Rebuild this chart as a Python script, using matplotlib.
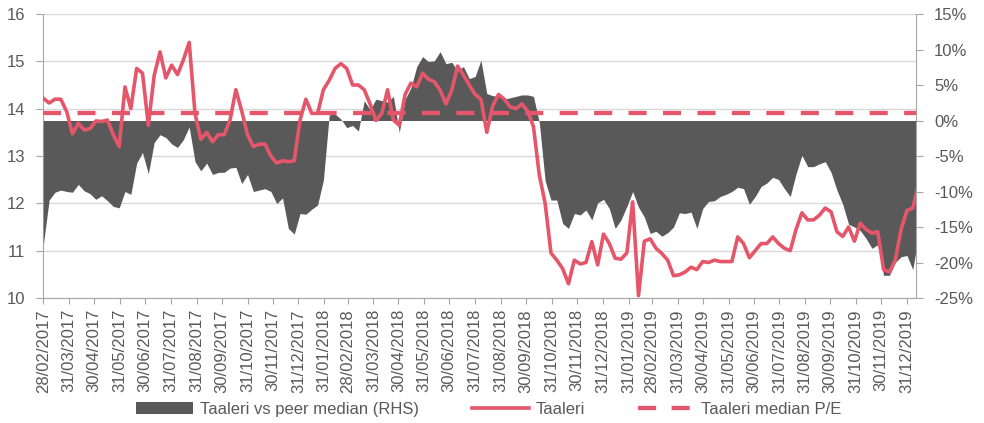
import pandas as pd
import matplotlib
matplotlib.use('Agg')
import matplotlib.pyplot as plt
import matplotlib.dates as mdates
from matplotlib.patches import Patch
from matplotlib.lines import Line2D

plt.rcParams['font.family'] = ['Liberation Sans', 'DejaVu Sans']

# Weekly observations, 28/02/2017 -> 01/2020
fechas = pd.date_range('2017-02-28', periods=151, freq='7D')

# Taaleri P/E (LHS)
taaleri_pe = [
    14.22, 14.12, 14.2, 14.2, 13.94, 13.47, 13.69, 13.55, 13.58, 13.74,
    13.73, 13.76, 13.45, 13.2, 14.46, 14.0, 14.85, 14.75, 13.65, 14.7,
    15.2, 14.65, 14.92, 14.72, 15.03, 15.4, 13.9, 13.35, 13.5, 13.3,
    13.45, 13.45, 13.76, 14.4, 13.95, 13.45, 13.2, 13.25, 13.25, 13.0,
    12.85, 12.9, 12.88, 12.9, 13.76, 14.2, 13.9, 13.9, 14.4, 14.6,
    14.85, 14.95, 14.85, 14.5, 14.5, 14.4, 14.1, 13.75, 13.9, 14.4,
    13.76, 13.65, 14.3, 14.54, 14.46, 14.75, 14.62, 14.57, 14.39, 14.1,
    14.39, 14.9, 14.71, 14.5, 14.3, 14.2, 13.5, 14.05, 14.3, 14.2,
    14.04, 14.0, 14.1, 13.95, 13.62, 12.6, 12.0, 10.95, 10.8, 10.62,
    10.3, 10.8, 10.72, 10.75, 11.19, 10.7, 11.35, 11.15, 10.84, 10.82,
    10.95, 12.03, 10.05, 11.2, 11.25, 11.05, 10.94, 10.8, 10.47, 10.49,
    10.55, 10.65, 10.6, 10.77, 10.75, 10.8, 10.77, 10.77, 10.77, 11.29,
    11.15, 10.85, 11.0, 11.15, 11.15, 11.29, 11.15, 11.05, 11.0, 11.45,
    11.8, 11.65, 11.65, 11.75, 11.9, 11.82, 11.4, 11.3, 11.5, 11.2,
    11.58, 11.45, 11.37, 11.4, 10.6, 10.55, 10.8, 11.45, 11.85, 11.9,
    12.4,
]

# Taaleri vs peer median, % (RHS)
vs_peers = [
    -17.5, -11.2, -10.1, -9.8, -10.0, -10.1, -9.0, -9.9, -10.3, -11.1,
    -10.6, -11.3, -12.1, -12.3, -10.0, -10.4, -6.0, -4.5, -7.5, -3.1,
    -2.0, -2.4, -3.3, -3.8, -2.7, -0.9, -5.8, -7.1, -6.0, -7.6,
    -7.3, -7.3, -6.7, -6.6, -8.9, -7.6, -10.0, -9.8, -9.6, -10.0,
    -11.7, -10.9, -15.2, -16.0, -13.1, -13.2, -12.5, -11.9, -8.4, 0.8,
    0.9, 0.2, -1.0, -0.7, -1.5, 2.8, 1.5, 3.0, 2.8, 2.6,
    3.4, -1.7, 3.0, 4.6, 7.6, 9.0, 8.3, 8.4, 9.7, 8.0,
    8.2, 7.0, 7.6, 5.9, 6.2, 8.5, 3.8, 3.5, 3.4, 3.0,
    3.2, 3.4, 3.6, 3.6, 3.4, -0.3, -8.5, -11.2, -11.2, -14.5,
    -15.2, -13.1, -13.3, -12.6, -14.0, -11.6, -11.1, -12.4, -15.2, -14.0,
    -12.1, -10.0, -12.2, -13.6, -15.9, -15.6, -16.3, -15.8, -15.0, -13.0,
    -13.1, -12.9, -15.2, -12.4, -11.4, -11.3, -10.7, -10.4, -10.0, -9.4,
    -9.6, -11.8, -10.7, -9.3, -8.8, -8.0, -8.3, -9.6, -10.7, -7.5,
    -4.9, -6.5, -6.5, -6.1, -5.8, -7.3, -9.8, -11.8, -14.6, -15.0,
    -15.5, -16.6, -18.0, -17.5, -21.8, -21.8, -20.0, -19.2, -19.0, -21.0,
    -16.0,
]

mediana_pe = 13.9

etiquetas = ['Taaleri vs peer median (RHS)', 'Taaleri', 'Taaleri median P/E']

gris = '#595959'
rojo = '#E5566B'
eje = '#a6a6a6'
texto = '#595959'

fig = plt.figure(figsize=(9.84, 4.23), dpi=100)
ax = fig.add_axes([0.044, 0.2955, 0.887, 0.6714])
ax2 = ax.twinx()   # area, RHS %
ax3 = ax.twinx()   # lines, same scale as LHS

# LHS axis + grid
ax.set_ylim(10, 16)
ax.set_yticks(range(10, 17))
ax.grid(axis='y', color='#d9d9d9', linewidth=1)
ax.set_axisbelow(True)
for s in ['top', 'right']:
    ax.spines[s].set_visible(False)
for s in ['left', 'bottom']:
    ax.spines[s].set_color(eje)
ax.tick_params(axis='y', length=5, color=eje, labelcolor=texto, labelsize=12, pad=8)

# x axis
fin_mes = pd.date_range('2017-02-28', '2019-12-31', freq=pd.offsets.MonthEnd())
ax.set_xticks(fin_mes)
ax.xaxis.set_major_formatter(mdates.DateFormatter('%d/%m/%Y'))
ax.tick_params(axis='x', length=4, color=eje, labelcolor=texto, labelsize=12,
               labelrotation=90, pad=4)
ax.set_xlim(pd.Timestamp('2017-02-28'), pd.Timestamp('2020-01-11'))

# RHS area
ax2.fill_between(fechas, 0, vs_peers, color=gris, linewidth=0)
ax2.set_ylim(-25, 15)
ax2.set_yticks(range(-25, 16, 5))
ax2.set_yticklabels([f'{v}%' for v in range(-25, 16, 5)])
for s in ['top', 'left', 'bottom']:
    ax2.spines[s].set_visible(False)
ax2.spines['right'].set_color(eje)
ax2.tick_params(axis='y', length=5, color=eje, labelcolor=texto, labelsize=12, pad=8)

# lines on top
ax3.plot(fechas, taaleri_pe, color=rojo, linewidth=2.6)
ax3.plot([fechas[0], fechas[-1]], [mediana_pe, mediana_pe], color=rojo,
         linewidth=3.1, dashes=(4.2, 3.8))
ax3.set_ylim(10, 16)
ax3.yaxis.set_visible(False)
for s in ax3.spines.values():
    s.set_visible(False)
ax3.set_xlim(pd.Timestamp('2017-02-28'), pd.Timestamp('2020-01-11'))

handles = [
    Patch(facecolor=gris, edgecolor='none'),
    Line2D([], [], color=rojo, linewidth=2.6),
    Line2D([], [], color=rojo, linewidth=3.1, dashes=(4.2, 3.6)),
]
fig.legend(handles, etiquetas, loc='center', bbox_to_anchor=(0.497, 0.033), ncol=3,
           frameon=False, fontsize=12, handlelength=3.4, columnspacing=3.2,
           handletextpad=0.4, labelcolor=texto)

fig.savefig('out.png', dpi=100)
